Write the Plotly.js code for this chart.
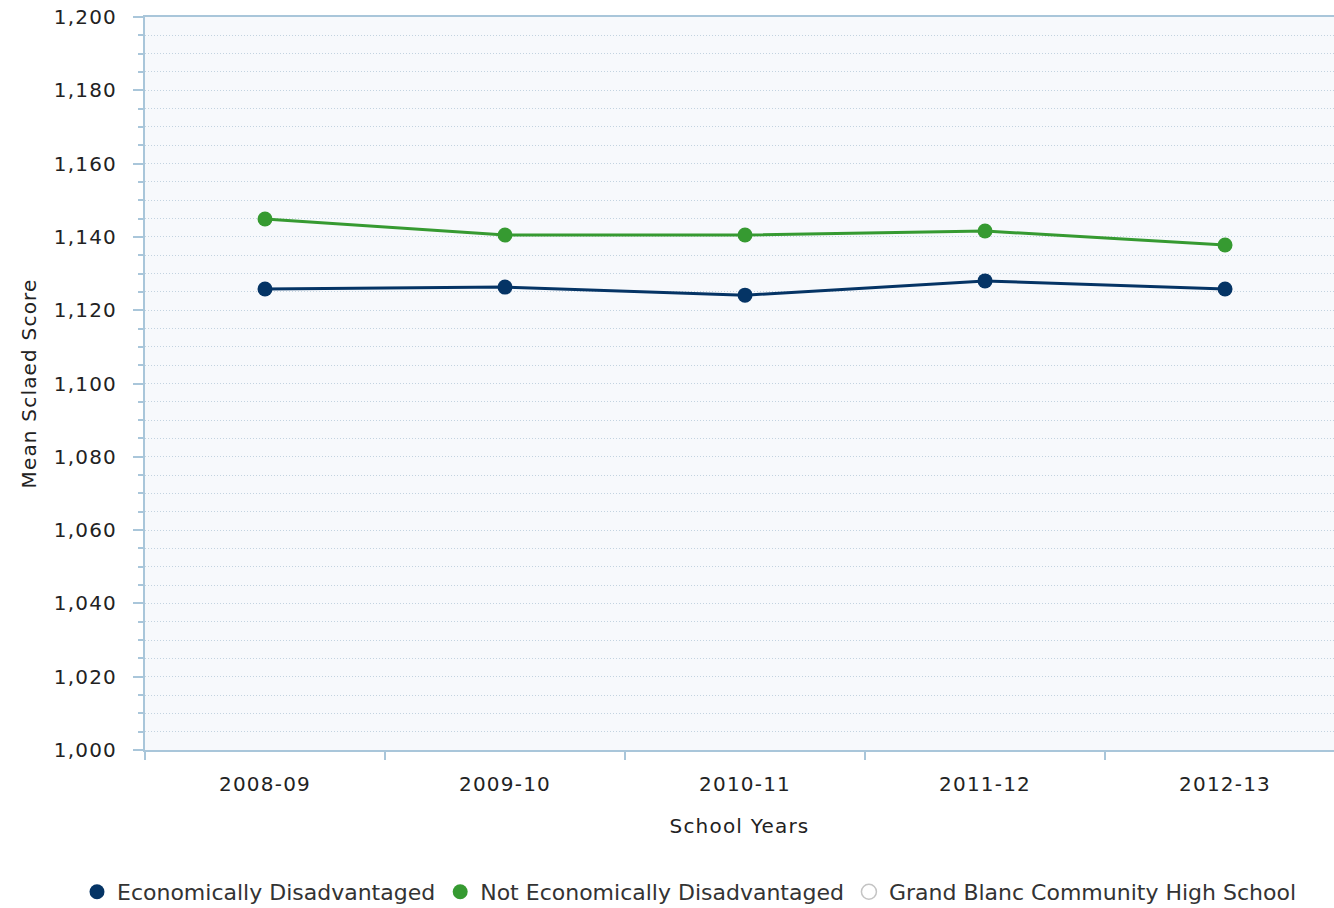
<!DOCTYPE html>
<html>
<head>
<meta charset="utf-8">
<script src="https://cdn.plot.ly/plotly-3.0.1.min.js"></script>
<style>html,body{margin:0;padding:0;background:#fff;}#chart{width:1334px;height:908px;}
#chart .xtick text, #chart .ytick text, #chart .g-xtitle text, #chart .g-ytitle text{letter-spacing:1.2px;}</style>
</head>
<body>
<div id="chart"></div>
<script>
const schoolYears = ["2008-09", "2009-10", "2010-11", "2011-12", "2012-13"];
const econDisadvantaged = [1125.8, 1126.3, 1124.1, 1128.0, 1125.8];
const notEconDisadvantaged = [1144.9, 1140.5, 1140.5, 1141.6, 1137.8];
const grandBlanc = [null, null, null, null, null];
const seriesNames = ["Economically Disadvantaged", "Not Economically Disadvantaged", "Grand Blanc Community High School"];

const BLUE = "#053465";
const GREEN = "#369a31";
const AXIS = "#a9c6da";
const GRID = "#c3d3e0";
const FONT = "DejaVu Sans, Verdana, sans-serif";

const traces = [
  {x: schoolYears, y: econDisadvantaged, mode: "lines", line: {color: BLUE, width: 3}, showlegend: false, hoverinfo: "skip"},
  {x: schoolYears, y: notEconDisadvantaged, mode: "lines", line: {color: GREEN, width: 3}, showlegend: false, hoverinfo: "skip"},
  {x: schoolYears, y: econDisadvantaged, mode: "markers", name: seriesNames[0], marker: {color: BLUE, size: 15}},
  {x: schoolYears, y: notEconDisadvantaged, mode: "markers", name: seriesNames[1], marker: {color: GREEN, size: 15}},
  {x: schoolYears, y: grandBlanc, mode: "markers", name: seriesNames[2], marker: {color: "#ffffff", size: 15, line: {color: "#c4c4c4", width: 1.5}}}
];

const layout = {
  width: 1334, height: 908,
  margin: {l: 145, r: 0, t: 17, b: 158, autoexpand: false},
  paper_bgcolor: "#ffffff",
  plot_bgcolor: "#f7f9fc",
  font: {family: FONT, size: 20, color: "#222222"},
  showlegend: true,
  legend: {orientation: "h", x: -0.0572, xanchor: "left", y: -0.1937, yanchor: "middle", font: {family: FONT, size: 22, color: "#333333"}, itemsizing: "trace"},
  xaxis: {
    type: "category",
    range: [-0.5, 4.454],
    showgrid: false, zeroline: false,
    showline: true, linecolor: AXIS, linewidth: 2, mirror: true,
    ticks: "outside", tickson: "boundaries", ticklen: 8, tickcolor: AXIS, tickwidth: 2,
    ticklabelstandoff: 15,
    tickfont: {family: FONT, size: 20, color: "#222222"},
    title: {text: "School Years", font: {family: FONT, size: 20, color: "#222222"}, standoff: 24}
  },
  yaxis: {
    range: [1000, 1200],
    dtick: 20, tick0: 1000,
    tickformat: ",d",
    showline: true, linecolor: AXIS, linewidth: 2,
    ticks: "outside", ticklen: 10, tickcolor: AXIS, tickwidth: 2,
    ticklabelstandoff: 12,
    showgrid: true, gridcolor: GRID, griddash: "1px,2px", gridwidth: 1,
    zeroline: false,
    minor: {dtick: 5, ticks: "outside", ticklen: 5, tickcolor: AXIS, tickwidth: 2, showgrid: true, gridcolor: GRID, griddash: "1px,2px", gridwidth: 1},
    tickfont: {family: FONT, size: 20, color: "#222222"},
    title: {text: "Mean Sclaed Score", font: {family: FONT, size: 20, color: "#222222"}, standoff: 18}
  }
};

Plotly.newPlot("chart", traces, layout, {displayModeBar: false, staticPlot: true});
</script>
</body>
</html>
